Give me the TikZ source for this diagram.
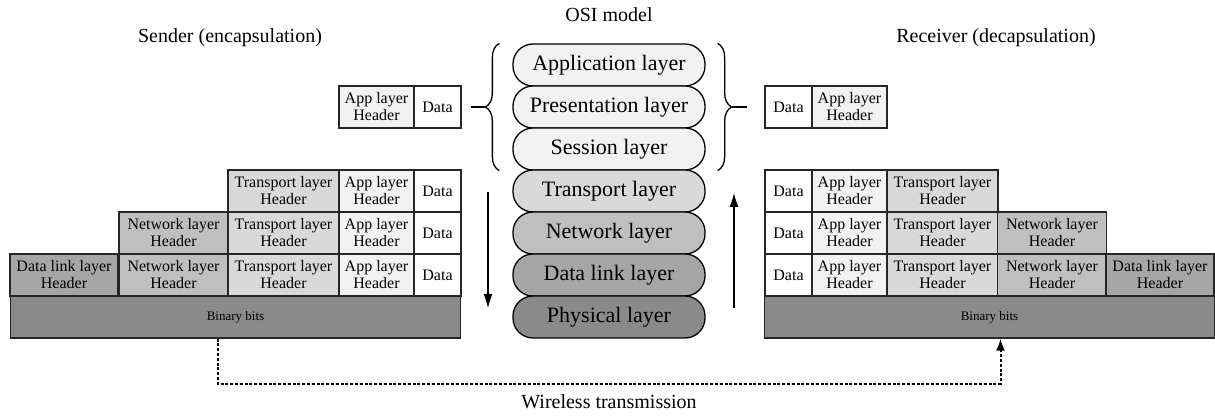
\documentclass[tikz,border=0pt]{standalone}
\usepackage{fontspec}
\setmainfont{Liberation Serif}
\newfontfamily\tms{Liberation Serif}
\usetikzlibrary{arrows.meta,calc,decorations.pathreplacing}
\definecolor{lay1}{RGB}{242,242,242}
\definecolor{lay2}{RGB}{217,217,217}
\definecolor{lay3}{RGB}{191,191,191}
\definecolor{lay4}{RGB}{166,166,166}
\definecolor{lay5}{RGB}{138,138,138}
\definecolor{edge}{RGB}{38,38,38}
\tikzset{
  cell/.style={draw=edge,line width=0.65pt,inner sep=0pt,align=center,font=\tms\fontsize{8}{8.5}\selectfont,minimum height=21pt},
  datac/.style={cell,fill=white,minimum width=23.5pt},
  appc/.style={cell,fill=lay1,minimum width=37.5pt},
  trnc/.style={cell,fill=lay2,minimum width=55.5pt},
  netc/.style={cell,fill=lay3,minimum width=54.5pt},
  dlc/.style={cell,fill=lay4,minimum width=54pt},
  bits/.style={cell,fill=lay5,minimum width=225pt,font=\tms\fontsize{6.5}{7}\selectfont},
  layer/.style={draw=black,line width=0.65pt,rounded corners=10pt,minimum width=96pt,minimum height=21pt,inner sep=0pt,font=\tms\fontsize{11}{12}\selectfont},
  title/.style={font=\tms\fontsize{10}{12}\selectfont},
  arr/.style={-{Latex[length=7pt,width=4.5pt]},line width=0.6pt},
  brc/.style={decorate,decoration={brace,amplitude=7pt},line width=0.65pt},
  wire/.style={-{Latex[length=6pt,width=4.5pt]},line width=1pt,dash pattern=on 1.5pt off 0.9pt},
}
\begin{document}
\begin{tikzpicture}[x=0.5pt,y=-0.5pt]
  \useasboundingbox (0,0) rectangle (1215,416);
  \node[title] (osi) at (609,15) {OSI model};
  \node[title] (sndt) at (230,38) {Sender (encapsulation)};
  \node[title] (rcvt) at (996,38) {Receiver (decapsulation)};
  \node[layer,fill=lay1] (app) at (609,65) {Application layer};
  \node[layer,fill=lay1] (pre) at (609,107) {Presentation layer};
  \node[layer,fill=lay1] (ses) at (609,149) {Session layer};
  \node[layer,fill=lay2] (trn) at (609,191) {Transport layer};
  \node[layer,fill=lay3] (net) at (609,233) {Network layer};
  \node[layer,fill=lay4] (dl) at (609,275) {Data link layer};
  \node[layer,fill=lay5] (phy) at (609,317) {Physical layer};
  \node[appc] (s0app) at (376.5,107) {App layer\\Header};
  \node[datac] (s0dat) at (437.5,107) {Data};
  \node[datac] (r0dat) at (788.5,107) {Data};
  \node[appc] (r0app) at (849.5,107) {App layer\\Header};
  \node[trnc] (s1trn) at (283.5,191) {Transport layer\\Header};
  \node[appc] (s1app) at (376.5,191) {App layer\\Header};
  \node[datac] (s1dat) at (437.5,191) {Data};
  \node[netc] (s2net) at (173.5,233) {Network layer\\Header};
  \node[trnc] (s2trn) at (283.5,233) {Transport layer\\Header};
  \node[appc] (s2app) at (376.5,233) {App layer\\Header};
  \node[datac] (s2dat) at (437.5,233) {Data};
  \node[dlc] (s3dl) at (64,275) {Data link layer\\Header};
  \node[netc] (s3net) at (173.5,275) {Network layer\\Header};
  \node[trnc] (s3trn) at (283.5,275) {Transport layer\\Header};
  \node[appc] (s3app) at (376.5,275) {App layer\\Header};
  \node[datac] (s3dat) at (437.5,275) {Data};
  \node[bits] (sbits) at (235.5,317) {Binary bits};
  \node[datac] (r1dat) at (788.5,191) {Data};
  \node[appc] (r1app) at (849.5,191) {App layer\\Header};
  \node[trnc] (r1trn) at (942.5,191) {Transport layer\\Header};
  \node[datac] (r2dat) at (788.5,233) {Data};
  \node[appc] (r2app) at (849.5,233) {App layer\\Header};
  \node[trnc] (r2trn) at (942.5,233) {Transport layer\\Header};
  \node[netc] (r2net) at (1052,233) {Network layer\\Header};
  \node[datac] (r3dat) at (788.5,275) {Data};
  \node[appc] (r3app) at (849.5,275) {App layer\\Header};
  \node[trnc] (r3trn) at (942.5,275) {Transport layer\\Header};
  \node[netc] (r3net) at (1052,275) {Network layer\\Header};
  \node[dlc] (r3dl) at (1160,275) {Data link layer\\Header};
  \node[bits] (rbits) at (989.5,317) {Binary bits};
  \node[title] (wl) at (609,402) {Wireless transmission};
  \coordinate (dntop) at (488,192);
  \coordinate (dnbot) at (488,308);
  \coordinate (upbot) at (734,308);
  \coordinate (uptop) at (734,193);
  \draw[brc] ([xshift=-6.5pt]ses.south west) -- ([xshift=-6.5pt]app.north west);
  \draw[brc] ([xshift=6pt]app.north east) -- ([xshift=6pt]ses.south east);
  \draw[line width=0.65pt] ([xshift=4.5pt]s0dat.east) -- ++(15,0);
  \draw[line width=0.65pt] ([xshift=-8.5pt]r0dat.west) -- ++(-15,0);
  \draw[arr] (dntop) -- (dnbot);
  \draw[arr] (upbot) -- (uptop);
  \draw[wire] ([xshift=-9pt]sbits.south) -- ++(0,45) -| ([xshift=5.5pt]rbits.south);
\end{tikzpicture}
\end{document}
